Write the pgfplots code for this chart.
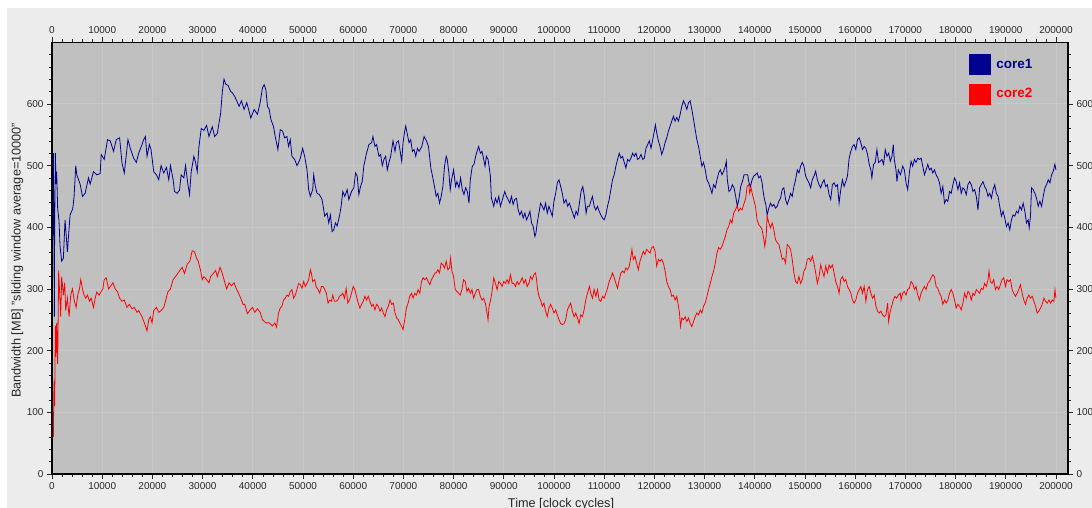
\documentclass[border=0pt]{standalone}
\usepackage{fontspec}
\setmainfont{Liberation Sans}
\usepackage{pgfplots}
\pgfplotsset{compat=1.18}
\definecolor{cblue}{RGB}{0,0,145}
\definecolor{cred}{RGB}{255,0,0}
\definecolor{plotbg}{RGB}{192,192,192}
\definecolor{gridc}{RGB}{200,200,200}
\definecolor{outerbg}{RGB}{236,236,236}
\definecolor{tickc}{RGB}{40,40,40}
\pgfplotsset{mybase/.style={
  scale only axis, width=1016pt, height=431.5pt,
  xmin=0, xmax=202400, ymin=0, ymax=699.5,
  xtick distance=10000, ytick distance=100,
  minor x tick num=4, minor y tick num=4,
  tick align=outside,
  major tick length=5pt, minor tick length=3pt,
  scaled x ticks=false, scaled y ticks=false,
  tick label style={font=\fontsize{10}{12}\selectfont, text=tickc, /pgf/number format/assume math mode=true},
  xticklabel style={/pgf/number format/.cd, fixed, 1000 sep={}},
  axis line style={black, line width=1.4pt},
  every tick/.style={tickc, line width=0.6pt},
}}
\begin{document}
\begin{tikzpicture}
\fill[white] (-52pt,-34pt) rectangle (1040pt,474pt);
\fill[outerbg] (-45pt,-34pt) rectangle (1040pt,466pt);
\begin{axis}[mybase,
  axis background/.style={fill=plotbg},
  grid=major, grid style={gridc, line width=0.8pt},
  xlabel={Time [clock cycles]},
  ylabel={Bandwidth [MB] "sliding window average=10000"},
  x label style={at={(axis description cs:0.501,-0.0765)}, anchor=base, font=\fontsize{12.7}{14}\selectfont, text=tickc},
  y label style={at={(axis description cs:-0.0308,0.495)}, anchor=base, rotate=0, font=\fontsize{12.7}{14}\selectfont, text=tickc},
  legend style={at={(axis description cs:0.9026,0.9738)}, anchor=north west, draw=none, fill=none,
    inner sep=0pt, outer sep=0pt, row sep=9pt, font=\fontsize{13.5}{15}\selectfont\bfseries,
    nodes={inner sep=0pt}},
  legend cell align=left,
  legend image code/.code={\fill[#1] (0pt,-10pt) rectangle (21pt,10pt); \path[draw=none,fill=none] (0pt,0pt) rectangle (27pt,0.1pt);},
]
\addplot[cblue, line width=0.8pt] coordinates {
(0,530) (130,380) (270,520) (400,360) (470,255) (530,400) (670,520) (800,470) (930,490) (1130,430) (1400,410) (1600,370) (1930,345) (2270,350) (2600,412) (3067,360) (3600,420) (4133,430) (4400,450) (4733,500) (4933,485) (5600,470) (6067,450) (6600,455) (7267,480) (7600,470) (8267,490) (8933,485) (9600,487) (9800,518) (10400,510) (11067,542) (11600,540) (12267,523) (12800,542) (13467,545) (13933,505) (14400,488) (15133,542) (15600,528) (16267,512) (16800,505) (17267,520) (17933,534) (18267,542) (18600,547) (18933,515) (19400,534) (19733,526) (20267,490) (20800,485) (21267,477) (21733,500) (22267,488) (22800,497) (23267,477) (23600,500) (24133,477) (24400,458) (24933,455) (25400,460) (25733,485) (26267,480) (26600,500) (27067,470) (27400,453) (27733,490) (28267,515) (28600,505) (28933,490) (29267,530) (29733,560) (30267,557) (30800,565) (31267,547) (31933,563) (32400,547) (32933,552) (33600,585) (33933,620) (34267,640) (34600,632) (35067,630) (35600,620) (35933,618) (36400,612) (36800,605) (37267,596) (37733,605) (38267,591) (38800,602) (39267,588) (39600,577) (40267,591) (40933,583) (41467,602) (41933,626) (42267,631) (42600,623) (42933,596) (43267,591) (43600,575) (44133,563)
(44467,547) (45000,526) (45467,558) (45933,556) (46333,545) (46800,547) (47133,531) (47467,542) (47800,515) (48333,510) (48800,500) (49133,505) (49467,512) (49933,528) (50333,515) (50800,493) (51133,461) (51467,450) (51933,461) (52133,485) (52467,466) (52800,455) (53267,453) (53800,445) (54333,418) (54800,423) (55133,407) (55467,420) (55800,393) (56133,396) (56467,407) (56800,402) (57267,418) (57600,434) (57933,458) (58333,450) (58800,461) (59133,445) (59667,458) (60133,464) (60467,488) (60800,483) (61133,453) (61467,466) (61800,474) (62133,500) (62600,518) (63133,534) (63667,537) (63933,547) (64333,531) (64667,534) (65133,515) (65467,518) (65800,500) (66133,510) (66467,515) (66800,493) (67133,505) (67467,515) (67933,540) (68333,523) (68600,537) (69000,540) (69267,528) (69667,507) (69933,537) (70267,556) (70467,564) (70800,550) (71133,537) (71467,542) (71800,523) (72133,526) (72467,515) (72800,528) (73133,523) (73667,531) (74133,547) (74600,540) (75000,531) (75467,496) (75800,483)
(76200,466) (76533,450) (76867,455) (77200,439) (77533,450) (77867,466) (78200,499) (78533,515) (78733,510) (79067,488) (79333,461) (79600,477) (80000,493) (80400,466) (80667,474) (81067,464) (81400,480) (81733,461) (82067,453) (82400,464) (82733,458) (83067,439) (83333,477) (83733,499) (84067,502) (84400,515) (84667,523) (85000,531) (85333,520) (85667,523) (86000,510) (86267,499) (86533,515) (86867,510) (87067,499) (87333,483) (87533,447) (87733,442) (88000,434) (88333,447) (88667,439) (89000,450) (89333,434) (89733,445) (90200,458) (90533,450) (90867,445) (91200,439) (91533,450) (91867,437) (92200,445) (92533,447) (92867,428) (93200,420) (93533,426) (93867,415) (94200,423) (94533,412) (94867,418) (95200,426) (95533,407) (95867,401) (96200,385) (96400,390) (96667,407) (97000,423) (97333,439) (97667,434) (98000,428) (98333,439) (98667,423) (99000,434) (99333,426) (99667,418) (100000,442) (100400,458) (100667,472) (101000,477) (101333,466) (101667,455) (102000,439) (102400,445) (102733,434) (103067,439) (103400,431) (103733,423) (104067,415) (104400,426) (104733,420) (105067,439) (105400,458) (105733,466) (106067,450) (106400,423) (106667,434) (107067,434)
(107333,442) (107667,450) (108000,434) (108333,428) (108667,434) (109000,426) (109333,420) (109667,415) (110000,412) (110333,420) (110667,434) (111000,445) (111333,461) (111667,477) (112000,485) (112333,499) (112667,510) (113000,520) (113333,512) (113667,515) (114000,505) (114333,496) (114667,510) (115000,507) (115333,512) (115667,520) (116000,515) (116333,520) (116667,510) (117000,512) (117333,518) (117667,510) (118000,512) (118333,528) (118667,534) (119000,540) (119333,528) (119667,542) (120000,556) (120200,566) (120467,553) (120800,540) (121133,531) (121467,518) (121800,526) (122133,537) (122467,545) (122800,556) (123133,564) (123467,572) (123800,580) (124133,572) (124467,578) (124800,572) (125133,583) (125467,596) (125800,605) (126133,599) (126467,591) (126800,602) (127133,605) (127333,596) (127533,588) (127800,575) (128133,558) (128467,542) (128800,531) (129133,515) (129467,499) (129800,505) (130133,493) (130467,477) (130800,472) (131133,464) (131467,455) (131800,469) (132133,464) (132467,477) (132800,488) (133133,493) (133467,485) (133800,491) (134133,499) (134333,507) (134533,477) (134867,458) (135200,461) (135533,469) (135867,464) (136200,450) (136533,434) (136867,447) (137200,466) (137533,474) (137867,485) (138200,485)
(138600,485) (138800,474) (139133,466) (139467,477) (139800,483) (140133,485) (140467,488) (140800,480) (141133,483) (141467,472) (141667,458) (141933,445) (142200,437) (142467,420) (142800,431) (143133,439) (143467,434) (143800,437) (144133,431) (144467,434) (144800,442) (145133,447) (145467,461) (145800,464) (146133,445) (146467,437) (146800,445) (147133,455) (147467,450) (147800,466) (148133,477) (148467,493) (148800,488) (149133,499) (149467,505) (149800,499) (150133,483) (150467,477) (150800,472) (151133,464) (151467,477) (151800,483) (152133,491) (152467,477) (152800,469) (153133,464) (153467,472) (153800,477) (154133,466) (154467,469) (154800,453) (155133,445) (155467,469) (155800,472) (156133,466) (156467,469) (156800,439) (157133,461) (157467,477) (157800,466) (158133,474) (158467,483) (158800,512) (159133,523) (159467,531) (159800,534) (160133,526) (160467,542) (160800,545) (161133,537) (161467,526) (161800,531) (162133,528) (162467,518) (162800,502) (163133,493) (163333,480) (163667,502) (164000,505) (164333,526) (164667,505) (165000,507) (165333,510) (165667,502) (166000,526) (166333,515) (166667,520) (167000,507) (167333,515) (167600,534) (167800,510) (168133,493) (168333,474) (168600,493) (169000,485)
(169133,488) (169467,499) (169800,493) (170133,472) (170467,461) (170800,488) (171133,507) (171467,499) (171800,510) (172133,505) (172467,512) (172800,510) (173133,512) (173467,499) (173800,485) (174133,493) (174467,502) (174800,493) (175133,496) (175467,488) (175800,493) (176133,485) (176467,480) (176800,472) (177133,455) (177467,466) (177800,439) (178133,445) (178467,442) (178800,458) (179133,455) (179467,469) (179800,480) (180133,474) (180467,461) (180800,472) (181133,455) (181467,464) (181800,461) (182133,453) (182467,469) (182800,474) (183133,469) (183467,458) (183800,461) (184133,450) (184467,428) (184800,464) (185133,469) (185467,474) (185800,466) (186133,461) (186467,450) (186800,455) (187133,447) (187467,461) (187800,469) (188133,455) (188467,450) (188800,434) (189133,418) (189467,426) (189800,415) (190133,401) (190467,407) (190800,396) (191133,412) (191467,420) (191800,418) (192133,426) (192467,423) (192800,434) (193133,428) (193467,439) (193800,426) (194133,407) (194467,412) (194667,399) (194933,418) (195133,464) (195467,461) (195800,455) (196133,447) (196467,434) (196800,442) (197133,434) (197467,450) (197800,464) (198133,469) (198467,477) (198800,472) (199133,485) (199467,491) (199800,502) (200000,493)
};
\addlegendentry{\textcolor{cblue}{core1}}
\addplot[cred, line width=0.8pt] coordinates {
(0,165) (130,95) (270,60) (400,150) (530,110) (670,240) (800,190) (930,245) (1130,178) (1330,330) (1730,255) (1930,320) (2270,290) (2530,310) (2730,265) (3070,285) (3400,255) (3730,290) (4070,300) (4470,280) (4800,270) (5130,290) (5470,300) (5730,315) (6070,300) (6400,290) (6730,285) (7070,290) (7470,280) (7800,285) (8270,270) (8600,285) (8930,295) (9400,290) (9730,295) (10130,300) (10400,315) (10800,318) (11270,300) (11730,305) (12130,310) (12600,300) (13070,295) (13470,285) (13930,280) (14400,282) (14930,270) (15400,275) (15930,268) (16400,270) (16930,262) (17270,265) (17930,255) (18400,245) (18930,232) (19270,250) (19600,255) (19930,245) (20270,265) (20800,270) (21270,262) (21730,265) (22270,270) (22600,280) (23070,295) (23600,300) (24130,315) (24600,320) (25470,330) (25930,335) (26400,325) (26930,340) (27470,345) (27930,362) (28400,360) (28800,350) (29130,345) (29600,330) (29930,315) (30270,320) (30800,315) (31270,310) (31600,320) (32130,325) (32600,330) (32930,320) (33470,335) (33930,325) (34270,315) (34800,300) (35270,310) (35730,305) (36270,310) (36730,300) (37070,295) (37600,285) (38070,275) (38400,275) (38930,260) (39400,265) (39930,270) (40400,262) (40930,268) (41470,262) (41930,250) (42600,245) (43270,245) (43930,240) (44400,245) (44730,238)
(45133,261) (45467,269) (45800,272) (46133,282) (46467,285) (46800,290) (47133,288) (47467,296) (47800,299) (48133,285) (48467,290) (48800,299) (49133,309) (49467,307) (49800,301) (50133,312) (50467,304) (50800,309) (51133,315) (51467,331) (51667,326) (51933,312) (52333,315) (52600,304) (53000,299) (53333,293) (53667,304) (54000,304) (54333,299) (54667,293) (55000,277) (55333,282) (55667,280) (55933,290) (56267,280) (56600,280) (56933,282) (57267,288) (57600,290) (57933,293) (58267,285) (58600,301) (58933,277) (59267,282) (59667,293) (60000,304) (60333,299) (60667,288) (61000,277) (61333,269) (61667,275) (62000,280) (62333,288) (62667,282) (63000,288) (63333,280) (63667,272) (64000,275) (64333,266) (64667,275) (65000,272) (65333,264) (65667,269) (66000,261) (66333,255) (66667,266) (67000,272) (67333,282) (67667,275) (68000,277) (68333,261) (68667,253) (69000,250) (69333,244) (69667,239) (69933,234) (70267,250) (70600,269) (70933,277) (71267,288) (71600,293) (71933,285) (72267,293) (72600,290) (72933,299) (73267,293) (73600,312) (73933,318) (74267,315) (74600,318) (74933,312) (75267,307) (75600,315) (75933,320) (76333,326)
(76533,326) (76867,331) (77200,326) (77533,342) (77867,339) (78200,334) (78533,345) (78867,331) (79200,334) (79400,350) (79667,329) (80000,320) (80333,299) (80667,296) (81000,293) (81333,290) (81667,299) (82000,315) (82333,312) (82667,296) (83000,301) (83333,293) (83667,299) (84000,285) (84333,293) (84667,299) (85000,299) (85333,288) (85667,282) (86000,285) (86333,277) (86667,261) (86867,250) (87067,272) (87333,280) (87667,296) (88000,318) (88333,309) (88667,299) (89000,312) (89333,309) (89667,304) (90000,312) (90333,309) (90667,315) (91000,309) (91333,323) (91667,309) (92000,309) (92333,304) (92667,312) (93000,307) (93333,312) (93667,318) (94000,309) (94333,315) (94667,304) (95000,309) (95333,320) (95667,315) (96000,323) (96333,326) (96533,315) (96733,299) (97000,288) (97333,282) (97667,272) (98000,277) (98333,264) (98667,255) (99000,269) (99333,275) (99667,269) (100000,261) (100333,266) (100667,258) (101000,250) (101333,244) (101667,242) (102000,244) (102333,250) (102667,266) (103000,272) (103333,277) (103667,264) (104000,255) (104333,261) (104667,253) (105000,244) (105333,258) (105667,255) (106000,266) (106333,282) (106667,293) (107067,304)
(107333,293) (107667,285) (108000,299) (108333,288) (108667,299) (109000,282) (109333,280) (109667,288) (110000,285) (110333,293) (110667,301) (111000,312) (111333,318) (111667,326) (112000,318) (112333,309) (112667,301) (113000,315) (113333,326) (113667,329) (114000,326) (114333,334) (114667,331) (115000,337) (115333,353) (115533,364) (115800,348) (116133,353) (116467,342) (116800,331) (117133,345) (117467,353) (117800,361) (118133,356) (118467,364) (118800,361) (119133,358) (119467,367) (119800,369) (120133,361) (120467,337) (120800,348) (121133,345) (121467,348) (121800,342) (122133,329) (122467,312) (122800,304) (123133,299) (123467,288) (123800,290) (124133,282) (124467,288) (124800,272) (125000,261) (125200,239) (125467,253) (125800,250) (126133,255) (126467,247) (126800,253) (127133,244) (127467,239) (127800,247) (128133,255) (128467,261) (128800,258) (129133,266) (129467,261) (129800,272) (130133,277) (130467,288) (130800,299) (131133,309) (131467,320) (131800,329) (132133,342) (132467,358) (132800,367) (133133,364) (133467,369) (133800,377) (134133,385) (134467,396) (134800,401) (135133,412) (135467,407) (135800,423) (136133,428) (136467,434) (136800,426) (137133,431) (137467,428) (137800,437) (138200,447)
(138467,466) (138800,469) (139000,455) (139267,464) (139533,453) (139800,445) (140133,434) (140467,412) (140800,404) (141133,401) (141467,396) (141800,380) (142000,369) (142267,385) (142467,418) (142800,407) (143133,399) (143467,407) (143800,396) (144133,380) (144467,375) (144800,372) (145133,361) (145467,348) (145800,350) (146133,342) (146467,372) (146800,369) (147133,364) (147467,348) (147800,326) (148133,312) (148467,309) (148800,320) (149133,309) (149467,315) (149800,329) (150133,334) (150467,348) (150800,350) (151133,345) (151467,353) (151800,342) (152133,326) (152467,309) (152800,320) (153133,339) (153467,329) (153800,320) (154133,337) (154467,326) (154800,339) (155133,334) (155467,339) (155800,326) (156133,312) (156467,304) (156800,293) (157133,315) (157467,320) (157800,312) (158133,315) (158467,304) (158800,299) (159133,293) (159467,282) (159800,277) (160133,282) (160467,293) (160800,299) (161133,304) (161467,293) (161800,304) (162133,280) (162467,299) (162800,304) (163133,293) (163467,285) (163800,290) (164133,272) (164467,264) (164800,261) (165133,264) (165467,258) (165800,255) (166133,258) (166467,277) (166667,247) (166933,261) (167267,272) (167600,282) (167933,288) (168267,285) (168600,290) (169000,293)
(169133,282) (169467,293) (169800,296) (170133,290) (170467,299) (170800,301) (171133,312) (171467,309) (171800,299) (172133,304) (172467,290) (172800,282) (173133,293) (173467,299) (173800,304) (174133,299) (174467,309) (174800,312) (175133,318) (175467,323) (175800,320) (176133,304) (176467,301) (176800,293) (177133,288) (177467,275) (177800,282) (178133,277) (178467,282) (178800,293) (179133,299) (179467,293) (179800,282) (180133,269) (180467,275) (180800,272) (181133,266) (181467,277) (181800,293) (182133,285) (182467,296) (182800,293) (183133,282) (183467,293) (183800,290) (184133,299) (184467,296) (184800,293) (185133,301) (185467,299) (185800,309) (186133,304) (186467,315) (186667,329) (186933,312) (187267,309) (187600,315) (187933,299) (188267,304) (188600,299) (188933,307) (189267,315) (189600,318) (189933,304) (190267,315) (190600,312) (190933,315) (191267,299) (191600,293) (191933,288) (192267,293) (192600,299) (192933,307) (193267,293) (193600,282) (193933,275) (194267,285) (194600,290) (194933,285) (195267,288) (195600,280) (195933,272) (196267,261) (196600,264) (196933,269) (197267,275) (197600,285) (197933,280) (198267,277) (198600,282) (198933,277) (199267,282) (199600,280) (199800,299) (200000,285)
};
\addlegendentry{\textcolor{cred}{core2}}
\end{axis}
\begin{axis}[mybase, xticklabel pos=upper, yticklabel pos=right]
\end{axis}
\pgfresetboundingbox
\path[use as bounding box] (-52pt,-34pt) rectangle (1040pt,474pt);
\end{tikzpicture}
\end{document}
